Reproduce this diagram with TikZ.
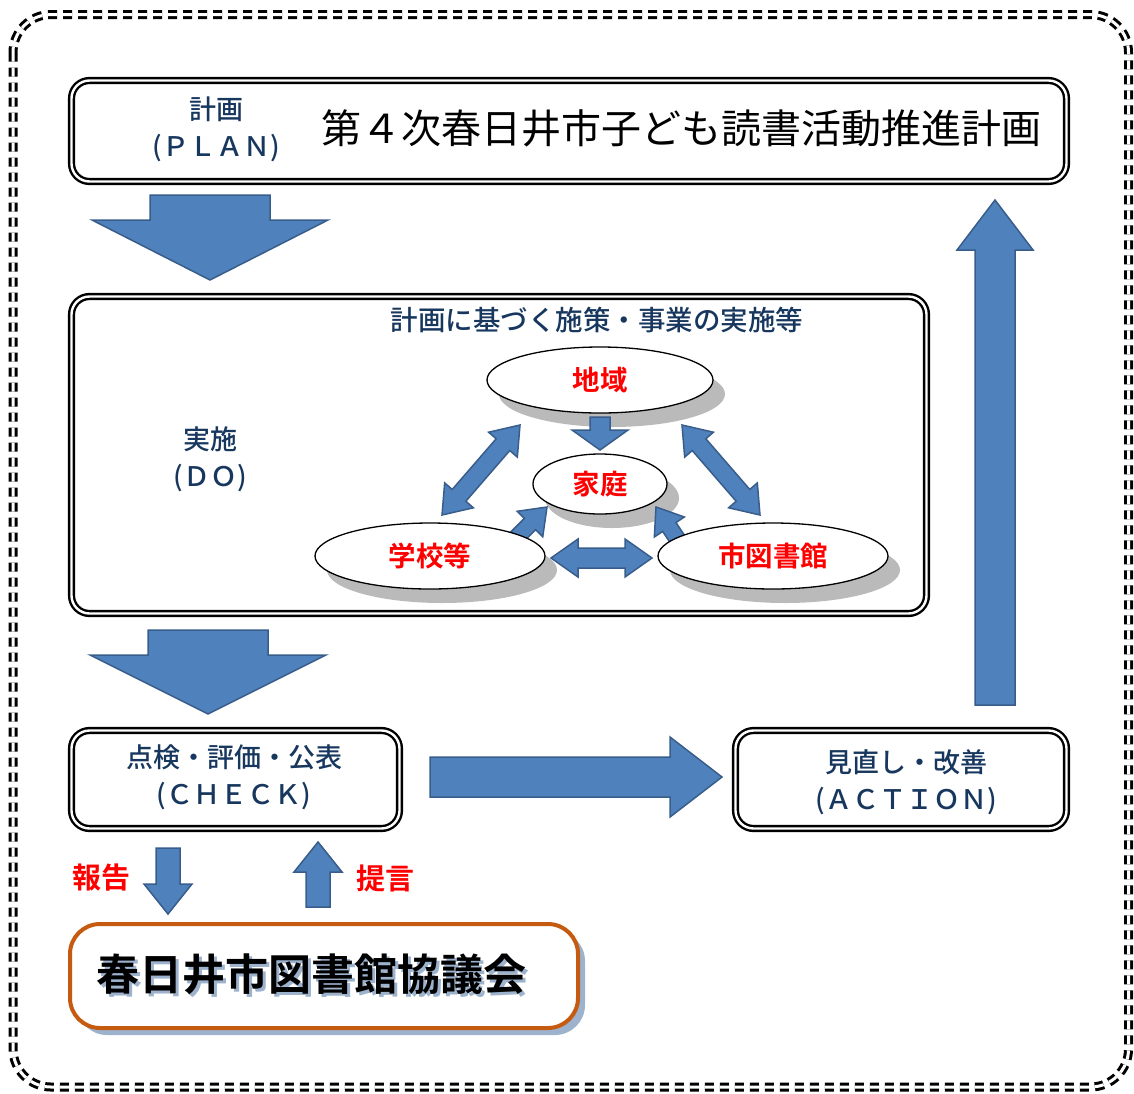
\documentclass[tikz,border=0pt]{standalone}
\usepackage{fontspec}
\setmainfont{Noto Sans CJK JP}[BoldFont={Noto Sans CJK JP Bold}]
\newfontfamily\jpmedium{Noto Sans CJK JP Medium}
\usetikzlibrary{calc,shapes.geometric,shadows}
\definecolor{navy}{HTML}{17375E}
\definecolor{arrowblue}{HTML}{4F81BD}
\definecolor{arrowline}{HTML}{385D8A}
\definecolor{kyougi}{HTML}{C55A11}
\definecolor{shadowblue}{HTML}{9DB3CD}
\tikzset{
    stagebox/.style={draw,double,double distance=2.4pt,line width=2.4pt,rounded corners=18pt,outer sep=0pt,inner sep=0pt},
    blockarrow/.style={fill=arrowblue,draw=arrowline,line width=1.5pt,line join=miter},
    place/.style={ellipse,draw,line width=1.3pt,fill=white,text=red,inner sep=0pt,
        font=\fontsize{27.5}{27.5}\selectfont\bfseries,
        drop shadow={shadow xshift=12pt,shadow yshift=-14pt,fill=black!27,opacity=1}},
    stagetext/.style={text=navy,align=center,font=\jpmedium\fontsize{27}{37}\selectfont},
    redlabel/.style={text=red,font=\fontsize{29}{29}\selectfont\bfseries},
}
% text with a soft blue shadow behind it
\newcommand{\shadowtext}[1]{\makebox[0pt][l]{\hspace{3pt}\raisebox{-3pt}{\color{shadowblue}#1}}#1}
% block arrow: from, to, shaft half width, head half width, head length
\newcommand{\blockarrow}[5]{%
    \coordinate (ba-h) at ($(#2)!#5!(#1)$);
    \draw[blockarrow] ($(#1)!#3!90:(#2)$) -- ($(ba-h)!#3!90:(#2)$) -- ($(ba-h)!#4!90:(#2)$) -- (#2)
        -- ($(ba-h)!#4!-90:(#2)$) -- ($(ba-h)!#3!-90:(#2)$) -- ($(#1)!#3!-90:(#2)$) -- cycle;
}
% the same with a head at both ends
\newcommand{\dblockarrow}[5]{%
    \coordinate (da-a) at ($(#1)!#5!(#2)$);
    \coordinate (da-b) at ($(#2)!#5!(#1)$);
    \draw[blockarrow] (#1) -- ($(da-a)!#4!90:(#2)$) -- ($(da-a)!#3!90:(#2)$) -- ($(da-b)!#3!-90:(#1)$)
        -- ($(da-b)!#4!-90:(#1)$) -- (#2) -- ($(da-b)!#4!90:(#1)$) -- ($(da-b)!#3!90:(#1)$)
        -- ($(da-a)!#3!-90:(#2)$) -- ($(da-a)!#4!-90:(#2)$) -- cycle;
}

\begin{document}
\begin{tikzpicture}[x=1pt,y=-1pt]
    \useasboundingbox (0,0) rectangle (1134,1093);
    \draw[double,double distance=3pt,line width=3pt,dash pattern=on 9pt off 6pt,rounded corners=38pt]
        (13,14.5) rectangle (1128.5,1087);

    % PLAN
    \node[stagebox,minimum width=995pt,minimum height=101pt] (plan) at (569,131) {};
    \node[stagetext] (plan-label) at (216,129) {計画\\(ＰＬＡＮ)};
    \node[font=\fontsize{40}{40}\selectfont] (plan-title) at (681,128) {第４次春日井市子ども読書活動推進計画};

    % DO
    \node[stagebox,minimum width=855pt,minimum height=317pt] (do) at (499,455) {};
    \node[text=navy,font=\jpmedium\fontsize{27.5}{27.5}\selectfont] (do-title) at (597,320) {計画に基づく施策・事業の実施等};
    \node[stagetext] (do-label) at (210,459) {実施\\(ＤＯ)};
    \node[place,minimum width=226pt,minimum height=66pt] (chiiki) at (600,380) {地域};
    \node[place,minimum width=134pt,minimum height=60pt] (katei) at (600,484) {家庭};
    \coordinate (gakkou-ne) at (513,541);   \coordinate (katei-sw) at (547,507);
    \coordinate (toshokan-nw) at (680,543); \coordinate (katei-se) at (656,507);
    \blockarrow{gakkou-ne}{katei-sw}{8pt}{18pt}{24pt}
    \blockarrow{toshokan-nw}{katei-se}{8pt}{18pt}{24pt}
    \node[place,minimum width=230pt,minimum height=66pt] (gakkou) at (430,556) {学校等};
    \node[place,minimum width=230pt,minimum height=66pt] (toshokan) at (773,556) {市図書館};

    % CHECK, ACTION
    \node[stagebox,minimum width=328pt,minimum height=98pt] (check) at (235.5,779.5) {};
    \node[stagetext] (check-label) at (234,777) {点検・評価・公表\\(ＣＨＥＣＫ)};
    \node[stagebox,minimum width=331pt,minimum height=98pt] (action) at (901,779.5) {};
    \node[stagetext] (action-label) at (906,782) {見直し・改善\\(ＡＣＴＩＯＮ)};

    % council
    \node[draw=kyougi,line width=4pt,fill=white,rounded corners=30pt,minimum width=508pt,minimum height=104pt,
        drop shadow={shadow xshift=7pt,shadow yshift=-7pt,fill=shadowblue,opacity=1}] (council) at (324,976) {};
    \node[font=\fontsize{43}{43}\selectfont\bfseries] (council-label) at (311,976) {\shadowtext{春日井市図書館協議会}};
    \node[redlabel] (houkoku) at (101,878) {報告};
    \node[redlabel] (teigen) at (385,878) {提言};

    % arrows
    \coordinate (plan-out) at (210,195);  \coordinate (do-in) at (210,280);
    \coordinate (do-out) at (208,630);    \coordinate (check-in) at (208,714);
    \coordinate (check-out) at (430,777); \coordinate (action-in) at (722,777);
    \coordinate (action-out) at (995,705);\coordinate (plan-in) at (995,200);
    \coordinate (report-a) at (168,848);  \coordinate (report-b) at (168,914);
    \coordinate (advice-a) at (318,907);  \coordinate (advice-b) at (318,842);
    \blockarrow{plan-out}{do-in}{60pt}{118pt}{60pt}
    \blockarrow{do-out}{check-in}{60pt}{118pt}{59pt}
    \blockarrow{check-out}{action-in}{20pt}{40pt}{52pt}
    \blockarrow{action-out}{plan-in}{20pt}{38pt}{50pt}
    \blockarrow{report-a}{report-b}{12pt}{24pt}{30pt}
    \blockarrow{advice-a}{advice-b}{12pt}{24pt}{30pt}

    \coordinate (chiiki-s) at (600,417);  \coordinate (katei-n) at (600,450);
    \coordinate (chiiki-sw) at (520,425); \coordinate (gakkou-n) at (442,515);
    \coordinate (chiiki-se) at (682,425); \coordinate (toshokan-n) at (760,515);
    \coordinate (gakkou-e) at (551,558);  \coordinate (toshokan-w) at (652,558);
    \blockarrow{chiiki-s}{katei-n}{10pt}{28pt}{20pt}
    \dblockarrow{chiiki-sw}{gakkou-n}{9pt}{19pt}{26pt}
    \dblockarrow{chiiki-se}{toshokan-n}{9pt}{19pt}{26pt}
    \dblockarrow{gakkou-e}{toshokan-w}{10pt}{19pt}{27pt}
\end{tikzpicture}
\end{document}
